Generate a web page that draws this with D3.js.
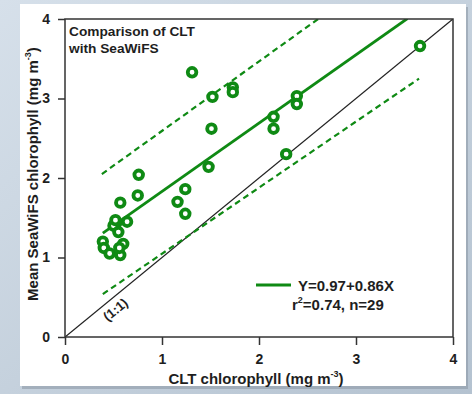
<!DOCTYPE html>
<html>
<head>
<meta charset="utf-8">
<script src="https://cdn.jsdelivr.net/npm/d3@7"></script>
<style>
  html, body { margin: 0; padding: 0; }
  body { width: 472px; height: 394px; overflow: hidden; }
  svg text { font-family: "Liberation Sans", Arial, sans-serif; font-weight: bold; fill: #1e1e1e; }
</style>
</head>
<body>
<svg id="chart" width="472" height="394"></svg>
<script>
// -------------- DATA ----------------- //
const cltValues = [3.66, 1.31, 1.52, 1.73, 1.73, 1.51, 2.39, 2.39, 2.15, 2.15,
    1.48, 2.28, 0.76, 0.75, 0.57, 1.24, 1.16, 1.24, 0.64, 0.53,
    0.50, 0.52, 0.55, 0.39, 0.40, 0.46, 0.57, 0.60, 0.56];
const seawifsValues = [3.66, 3.33, 3.02, 3.14, 3.08, 2.62, 3.03, 2.93, 2.77, 2.62,
    2.14, 2.30, 2.04, 1.78, 1.69, 1.86, 1.70, 1.55, 1.45, 1.44,
    1.40, 1.47, 1.32, 1.20, 1.12, 1.05, 1.03, 1.17, 1.12];
const fitIntercept = 0.97;
const fitSlope = 0.86;
const fitRange = [0.39, 3.53];
const upperBand = [[0.38, 2.05], [2.61, 4.0]];
const lowerBand = [[0.39, 0.54], [3.65, 3.25]];
const oneToOne = [[0, 0], [4, 4]];
const tickValues = [0, 1, 2, 3, 4];

// -------------- SETUP ----------------- //
const svg = d3.select("#chart");
const green = "#0f8a14";
const margin = { left: 65, top: 19, right: 19, bottom: 57 };
const plotW = 472 - margin.left - margin.right;
const plotH = 394 - margin.top - margin.bottom;

const x = d3.scaleLinear().domain([0, 4]).range([margin.left, margin.left + plotW]);
const y = d3.scaleLinear().domain([0, 4]).range([margin.top + plotH, margin.top]);

// background + white panel
const defs = svg.append("defs");
const grad = defs.append("linearGradient").attr("id", "bg").attr("x1", 0).attr("y1", 0).attr("x2", 1).attr("y2", 1);
grad.append("stop").attr("offset", "0%").attr("stop-color", "#d6e0ea");
grad.append("stop").attr("offset", "100%").attr("stop-color", "#b4c2d0");
svg.append("rect").attr("width", 472).attr("height", 394).attr("fill", "url(#bg)");
svg.append("rect").attr("x", 22).attr("y", 7).attr("width", 446).attr("height", 382).attr("fill", "#8e99a6").attr("opacity", 0.6);
svg.append("rect").attr("x", 20).attr("y", 4).attr("width", 446).attr("height", 382).attr("fill", "#ffffff");

// clip for lines
defs.append("clipPath").attr("id", "plotClip").append("rect")
    .attr("x", margin.left).attr("y", margin.top).attr("width", plotW).attr("height", plotH);

const line = d3.line().x(d => x(d[0])).y(d => y(d[1]));
const lines = svg.append("g").attr("clip-path", "url(#plotClip)");

lines.append("path").attr("d", line(oneToOne)).attr("stroke", "#222").attr("stroke-width", 1.3).attr("fill", "none");
lines.append("path").attr("d", line(upperBand)).attr("stroke", green).attr("stroke-width", 2.2)
    .attr("stroke-dasharray", "6,4").attr("fill", "none");
lines.append("path").attr("d", line(lowerBand)).attr("stroke", green).attr("stroke-width", 2.2)
    .attr("stroke-dasharray", "6,4").attr("fill", "none");
const fitLine = fitRange.map(v => [v, fitIntercept + fitSlope * v]);
lines.append("path").attr("d", line(fitLine)).attr("stroke", green).attr("stroke-width", 2.8).attr("fill", "none");

// 1:1 label
const angle = -Math.atan((y(0) - y(1)) / (x(1) - x(0))) * 180 / Math.PI;
svg.append("text")
    .attr("transform", `translate(${x(0.55)}, ${y(0.3)}) rotate(${angle})`)
    .attr("text-anchor", "middle").attr("font-size", 13)
    .text("(1:1)");

// points
svg.append("g").selectAll("circle")
    .data(cltValues.map((v, i) => [v, seawifsValues[i]]))
    .join("circle")
    .attr("cx", d => x(d[0])).attr("cy", d => y(d[1]))
    .attr("r", 4.3).attr("fill", "white").attr("stroke", green).attr("stroke-width", 3.8);

// frame
svg.append("rect").attr("x", margin.left).attr("y", margin.top).attr("width", plotW).attr("height", plotH)
    .attr("fill", "none").attr("stroke", "#333").attr("stroke-width", 1.5);

// axes
const xAxis = svg.append("g").attr("transform", `translate(0, ${margin.top + plotH})`)
    .call(d3.axisBottom(x).tickValues(tickValues).tickFormat(d3.format("d")).tickSize(8).tickPadding(9));
const yAxis = svg.append("g").attr("transform", `translate(${margin.left}, 0)`)
    .call(d3.axisLeft(y).tickValues(tickValues).tickFormat(d3.format("d")).tickSize(7).tickPadding(8));
[xAxis, yAxis].forEach(a => {
    a.select(".domain").remove();
    a.selectAll("line").attr("stroke", "#333").attr("stroke-width", 1.5);
    a.selectAll("text").attr("font-size", 14).attr("fill", "#1e1e1e");
});

// axis titles
const xt = svg.append("text").attr("x", 256).attr("y", 384).attr("text-anchor", "middle").attr("font-size", 15);
xt.append("tspan").text("CLT chlorophyll (mg m");
xt.append("tspan").attr("font-size", 9).attr("dy", -7).text("-3");
xt.append("tspan").attr("dy", 7).text(")");

const yt = svg.append("text").attr("transform", `translate(38, ${y(2.05)}) rotate(-90)`)
    .attr("text-anchor", "middle").attr("font-size", 15);
yt.append("tspan").text("Mean SeaWiFS chlorophyll (mg m");
yt.append("tspan").attr("font-size", 9).attr("dy", -7).text("-3");
yt.append("tspan").attr("dy", 7).text(")");

// title
svg.append("text").attr("x", 69).attr("y", 36).attr("font-size", 13.7).text("Comparison of CLT");
svg.append("text").attr("x", 69).attr("y", 53).attr("font-size", 13.7).text("with SeaWiFS");

// legend
svg.append("line").attr("x1", 256).attr("x2", 291).attr("y1", 285).attr("y2", 285)
    .attr("stroke", green).attr("stroke-width", 2.8);
svg.append("text").attr("x", 298).attr("y", 291).attr("font-size", 15).text("Y=0.97+0.86X");
const lt = svg.append("text").attr("x", 292).attr("y", 310).attr("font-size", 15);
lt.append("tspan").text("r");
lt.append("tspan").attr("font-size", 9).attr("dy", -7).text("2");
lt.append("tspan").attr("dy", 7).text("=0.74, n=29");
</script>
</body>
</html>
